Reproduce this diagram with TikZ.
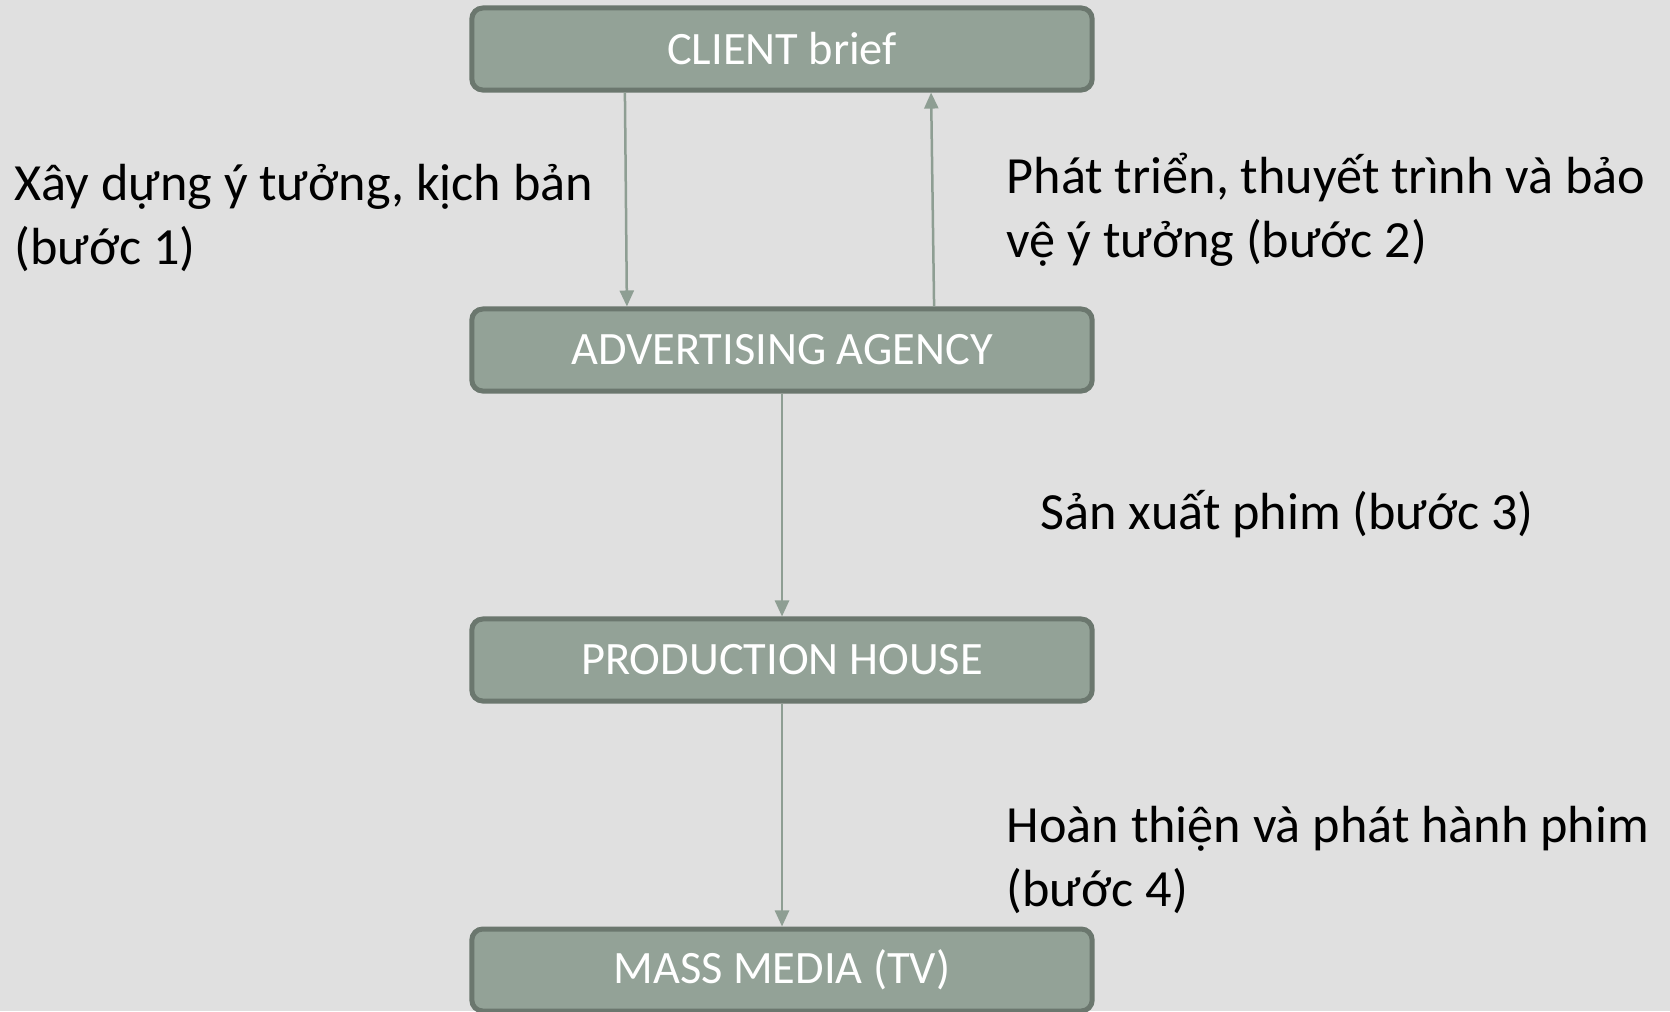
\documentclass[tikz,border=0pt]{standalone}
\usepackage{fontspec}
\setmainfont{Carlito}
\usetikzlibrary{arrows.meta}
\definecolor{bgcol}{HTML}{E0E0E0}
\definecolor{boxfill}{HTML}{93A297}
\definecolor{boxline}{HTML}{6B776E}
\definecolor{arrcol}{HTML}{8E9E93}

\begin{document}
\begin{tikzpicture}[x=0.01cm,y=-0.01cm,
    stage/.style={draw=boxline,fill=boxfill,line width=0.05cm,rounded corners=0.11cm,
      minimum width=6.2cm,minimum height=0.82cm,inner sep=0pt,text=white,
      font=\fontsize{13.2}{16}\selectfont},
    note/.style={anchor=base west,align=left,inner sep=0pt,
      font=\fontsize{14.85}{18.2}\selectfont},
    flow/.style={arrcol,line width=0.025cm,-{Triangle[length=0.16cm,width=0.14cm]}}]
  \fill[bgcol] (0,0) rectangle (1670,1011);
  \useasboundingbox (0,0) rectangle (1670,1011);

  %boxes
  \node[stage] (client) at (782,49) {CLIENT brief};
  \node[stage] (agency) at (782,350) {ADVERTISING AGENCY};
  \node[stage] (prod) at (782,660) {PRODUCTION HOUSE};
  \node[stage] (media) at (782,970) {MASS MEDIA (TV)};

  %steps
  \draw[flow] ([xshift=-1.57cm]client.south) -- ([xshift=-1.55cm]agency.north);
  \draw[flow] ([xshift=1.52cm]agency.north) -- ([xshift=1.49cm]client.south);
  \draw[flow] (agency) -- (prod);
  \draw[flow] (prod) -- (media);

  %labels (base = last line)
  \node[note] (step1) at (14,264) {Xây dựng ý tưởng, kịch bản\\(bước 1)};
  \node[note] (step2) at (1006,257) {Phát triển, thuyết trình và bảo\\vệ ý tưởng (bước 2)};
  \node[note] (step3) at (1040,529) {Sản xuất phim (bước 3)};
  \node[note] (step4) at (1006,906) {Hoàn thiện và phát hành phim\\(bước 4)};
\end{tikzpicture}
\end{document}
